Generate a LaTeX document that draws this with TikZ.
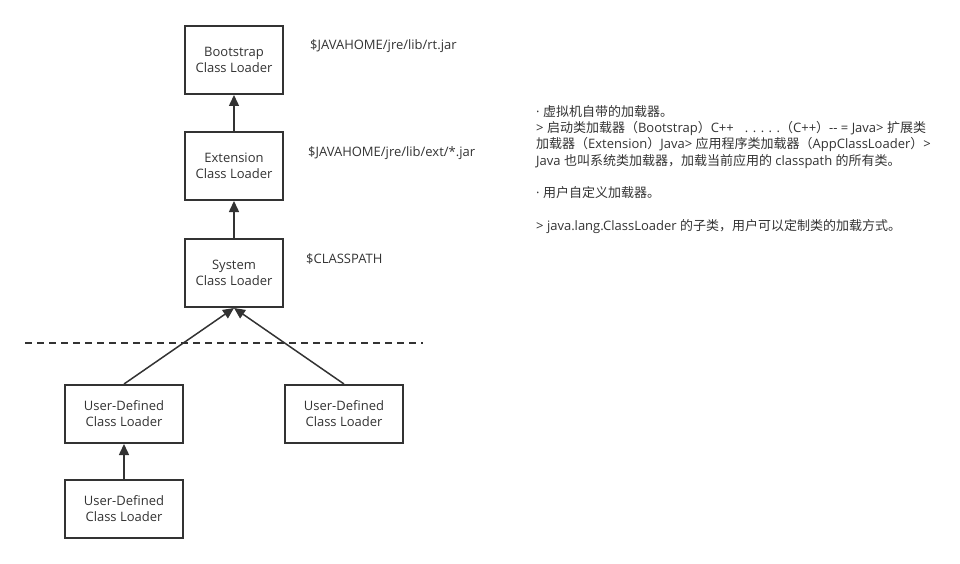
\documentclass[tikz,border=0pt]{standalone}
\usepackage{fontspec}
\setmainfont{Open Sans}
\newfontfamily\cjk[Scale=1.0]{Noto Sans CJK SC}
\usetikzlibrary{arrows.meta}
\definecolor{ink}{HTML}{333333}
\begin{document}
\begin{tikzpicture}[x=1pt,y=-1pt,
  box/.style={draw=ink, line width=2pt, minimum width=98pt, minimum height=68pt, align=center, font=\fontsize{13}{16}\selectfont, text=ink, inner sep=0pt, text depth=1pt},
  ubox/.style={box, minimum width=118pt, minimum height=58pt},
  arr/.style={draw=ink, line width=1.5pt, -{Triangle[length=11pt,width=10pt]}},
  path/.style={anchor=west, font=\fontsize{13}{16}\selectfont, text=ink, inner sep=0pt},
  note/.style={anchor=base west, font=\fontsize{13}{16}\selectfont, text=ink, inner sep=0pt}]
\useasboundingbox (0,0) rectangle (960,564);
\node[box] (boot) at (234,60) {Bootstrap\\Class Loader};
\node[box] (ext) at (234,166) {Extension\\Class Loader};
\node[box] (sys) at (234,273) {System\\Class Loader};
\node[ubox] (ud1) at (124,414) {User-Defined\\Class Loader};
\node[ubox] (ud2) at (344,414) {User-Defined\\Class Loader};
\node[ubox] (ud3) at (124,509) {User-Defined\\Class Loader};
\draw[arr] (ext.north) -- (boot.south);
\draw[arr] (sys.north) -- (ext.south);
\draw[arr] (ud1.north) -- (sys.south);
\draw[arr] (ud2.north) -- (sys.south);
\draw[arr] (ud3.north) -- (ud1.south);
\coordinate (dl) at (25,343);
\coordinate (dr) at (423,343);
\draw[draw=ink, line width=1.5pt, dash pattern=on 7pt off 5pt] (dl) -- (dr);
\node[path] (p1) at (310,46) {\$JAVAHOME/jre/lib/rt.jar};
\node[path] (p2) at (308,153) {\$JAVAHOME/jre/lib/ext/*.jar};
\node[path] (p3) at (306,259) {\$CLASSPATH};
\node[note] (n1) at (536,117) {· {\cjk 虚拟机自带的加载器。}};
\node[note] (n2) at (536,133) {> {\cjk 启动类加载器（}Bootstrap{\cjk ）}C++\hspace{11pt}. . . . .{\cjk （}C++{\cjk ）}-{}- = Java> {\cjk 扩展类}};
\node[note] (n3) at (536,149) {{\cjk 加载器（}Extension{\cjk ）}Java> {\cjk 应用程序类加载器（}AppClassLoader{\cjk ）}>};
\node[note] (n4) at (536,165) {Java {\cjk 也叫系统类加载器，加载当前应用的} classpath {\cjk 的所有类。}};
\node[note] (n5) at (536,197) {· {\cjk 用户自定义加载器。}};
\node[note] (n6) at (536,230) {> java.lang.ClassLoader {\cjk 的子类，用户可以定制类的加载方式。}};
\end{tikzpicture}
\end{document}
